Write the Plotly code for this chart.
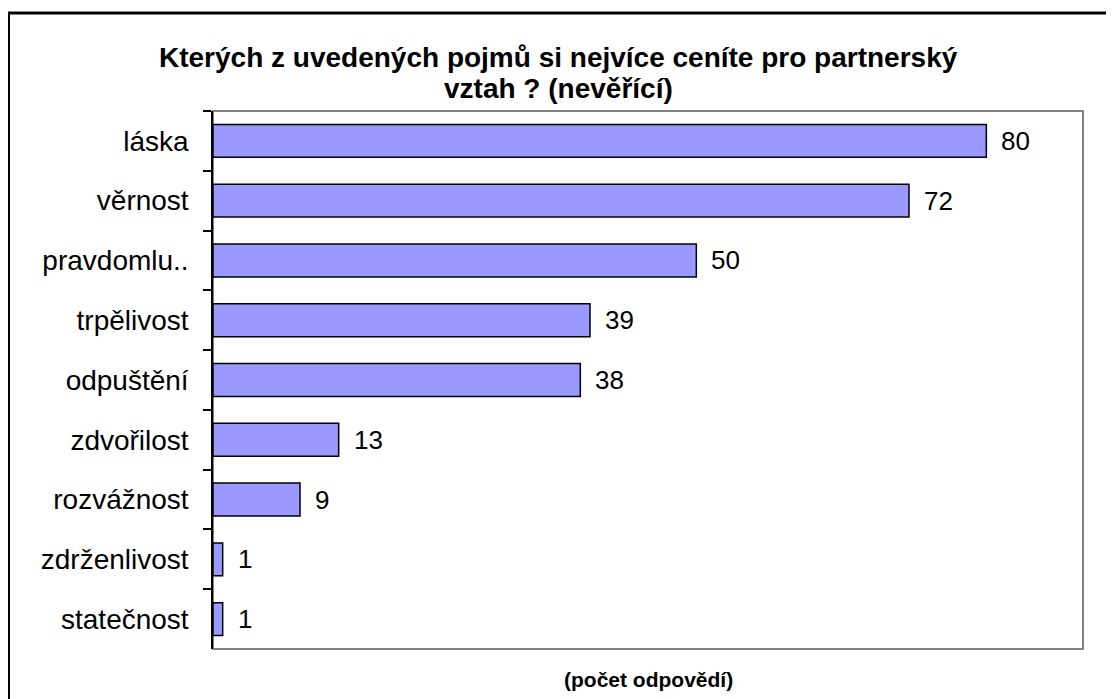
import plotly.graph_objects as go

categories = ["láska", "věrnost", "pravdomlu..", "trpělivost", "odpuštění",
              "zdvořilost", "rozvážnost", "zdrženlivost", "statečnost"]
values = [80, 72, 50, 39, 38, 13, 9, 1, 1]

title_lines = ["Kterých z uvedených pojmů si nejvíce ceníte pro partnerský",
               "vztah ? (nevěřící)"]
x_title = "(počet odpovědí)"

# the page body adds an 8px offset, so the figure is sized to fill the rest
W, H = 1106, 691
L, R, T, B = 205, 31, 103, 50
pw, ph = W - L - R, H - T - B

FONT = "Liberation Sans, Arial, sans-serif"


def px_x(px):
    return (px - L) / pw


def px_y(py):
    return (H - B - py) / ph


fig = go.Figure()
fig.add_trace(go.Bar(
    x=values, y=categories, orientation="h",
    marker=dict(color="#9999FF", line=dict(color="black", width=1.5)),
    hoverinfo="skip",
))

for c, v in zip(categories, values):
    fig.add_annotation(x=v, y=c, text=str(v), showarrow=False,
                       xanchor="left", yanchor="middle", xshift=13,
                       font=dict(family=FONT, size=26, color="black"))

# title lines
for line, ypx in zip(title_lines, [49, 80]):
    fig.add_annotation(xref="paper", yref="paper", x=px_x(550), y=px_y(ypx),
                       text="<b>" + line + "</b>", showarrow=False,
                       xanchor="center", yanchor="middle",
                       font=dict(family=FONT, size=28, color="black"))

# x-axis title
fig.add_annotation(xref="paper", yref="paper", x=0.5, y=px_y(671),
                   text="<b>" + x_title + "</b>", showarrow=False,
                   xanchor="center", yanchor="middle",
                   font=dict(family=FONT, size=21, color="black"))

# outer border (cut off at right and bottom)
fig.add_shape(type="rect", xref="paper", yref="paper",
              x0=px_x(0.5), x1=px_x(W + 10), y0=px_y(H + 10), y1=px_y(5),
              line=dict(color="black", width=3), fillcolor="rgba(0,0,0,0)",
              layer="above")
# plot-area frame (gray)
fig.add_shape(type="rect", xref="paper", yref="paper",
              x0=0, x1=1, y0=0, y1=1,
              line=dict(color="#808080", width=2), fillcolor="rgba(0,0,0,0)",
              layer="below")

fig.update_layout(
    width=W, height=H,
    margin=dict(l=L, r=R, t=T, b=B),
    paper_bgcolor="white", plot_bgcolor="white",
    bargap=0.45,
    showlegend=False,
    font=dict(family=FONT, color="black"),
)
fig.update_xaxes(range=[0, 90], showgrid=False, zeroline=False,
                 showticklabels=False, ticks="", showline=False)
fig.update_yaxes(categoryorder="array", categoryarray=categories,
                 autorange="reversed", showgrid=False, zeroline=False,
                 showline=True, linecolor="black", linewidth=1.5,
                 ticks="outside", tickson="boundaries", ticklen=8,
                 tickcolor="black", tickwidth=1.5,
                 ticklabelstandoff=17,
                 tickfont=dict(family=FONT, size=28, color="black"))

fig.write_html("out.html")
